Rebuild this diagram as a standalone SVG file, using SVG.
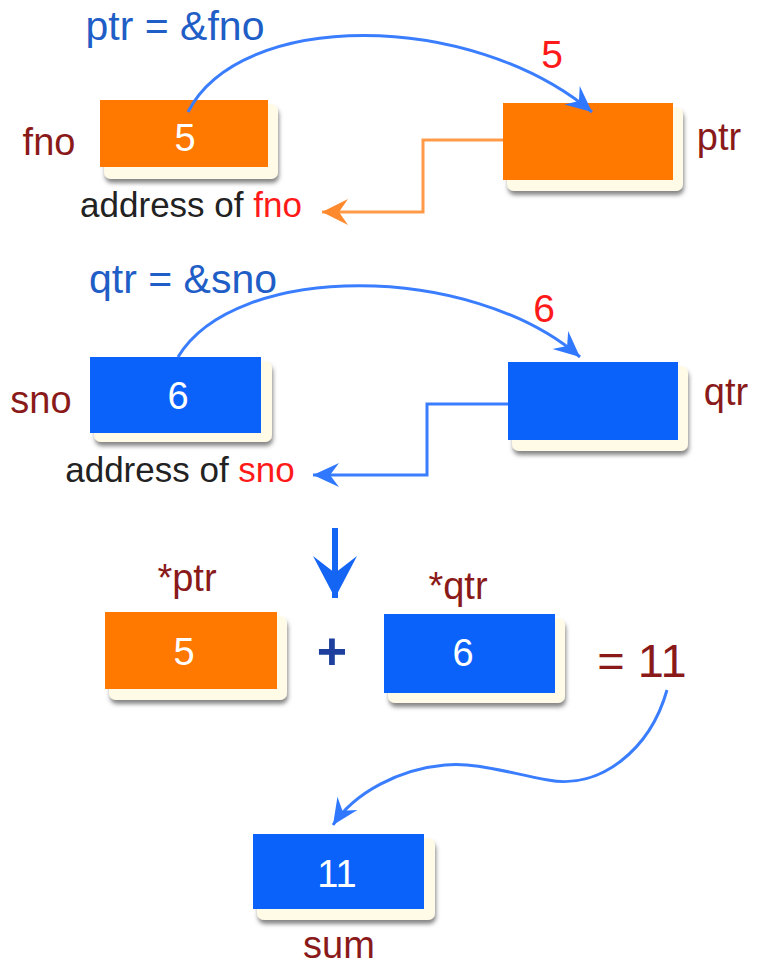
<svg xmlns="http://www.w3.org/2000/svg" width="757" height="966" viewBox="0 0 757 966">
  <defs>
    <filter id="cardShadow" x="-10%" y="-10%" width="125%" height="140%">
      <feDropShadow dx="1" dy="4" stdDeviation="2.2" flood-color="#444" flood-opacity="0.65"/>
    </filter>
    <marker id="arrowBlue" viewBox="-28 -15 30 30" markerWidth="30" markerHeight="30" refX="0" refY="0" orient="auto" markerUnits="userSpaceOnUse">
      <path d="M0,0 L-26,-12 L-17,0 L-26,12 Z" fill="#2f78ff"/>
    </marker>
    <marker id="arrowOrange" viewBox="-28 -15 30 30" markerWidth="30" markerHeight="30" refX="0" refY="0" orient="auto" markerUnits="userSpaceOnUse">
      <path d="M0,0 L-26,-13 L-17,0 L-26,13 Z" fill="#ff8a2e"/>
    </marker>
    <marker id="arrowDown" viewBox="-46 -25 48 50" markerWidth="48" markerHeight="50" refX="0" refY="0" orient="auto" markerUnits="userSpaceOnUse">
      <path d="M0,0 L-42,-22 L-25,0 L-42,22 Z" fill="#1565f5"/>
    </marker>
  </defs>
  <style>
    text { font-family: "Liberation Sans", Arial, sans-serif; }
    .card { fill: #fffbe6; filter: url(#cardShadow); }
    .orange { fill: #ff7800; }
    .blue { fill: #0a62fb; }
    .val { fill: #ffffff; font-size: 38px; text-anchor: middle; }
    .name { fill: #8a1a1a; font-size: 38px; text-anchor: middle; }
    .title { fill: #1f5ec6; font-size: 41px; text-anchor: middle; }
    .addr { fill: #222222; font-size: 35px; text-anchor: middle; }
    .addr tspan.hl { fill: #ff1a1a; }
    .num { fill: #ff1a1a; font-size: 39px; text-anchor: middle; }
    .link { fill: none; stroke: #3a7eff; stroke-width: 3; }
    .olink { fill: none; stroke: #ff9a48; stroke-width: 3; }
  </style>

  <rect width="757" height="966" fill="#ffffff"/>

  <!-- labels -->
  <text class="title" x="175" y="40">ptr = &amp;fno</text>
  <text class="num" x="552" y="68">5</text>
  <text class="addr" x="191" y="217">address of <tspan class="hl">fno</tspan></text>
  <text class="title" x="183" y="293">qtr = &amp;sno</text>
  <text class="num" x="544" y="322">6</text>
  <text class="addr" x="180" y="482">address of <tspan class="hl">sno</tspan></text>
  <text x="332" y="669" font-size="52" font-weight="bold" fill="#1e3f9e" text-anchor="middle">+</text>
  <text class="name" x="642" y="677" style="font-size:47px">= 11</text>

  <!-- nodes -->
  <g id="fno">
    <rect class="card" x="104" y="104" width="174" height="75" rx="7"/>
    <rect class="orange" x="100" y="100" width="168" height="67"/>
    <text class="val" x="185" y="151">5</text>
    <text class="name" x="49" y="155">fno</text>
  </g>
  <g id="ptr">
    <rect class="card" x="507" y="107" width="176" height="84" rx="7"/>
    <rect class="orange" x="503" y="103" width="170" height="77"/>
    <text class="name" x="719" y="150">ptr</text>
  </g>
  <g id="sno">
    <rect class="card" x="94" y="361" width="178" height="81" rx="7"/>
    <rect class="blue" x="90" y="357" width="171" height="76"/>
    <text class="val" x="178" y="409">6</text>
    <text class="name" x="41" y="413">sno</text>
  </g>
  <g id="qtr">
    <rect class="card" x="512" y="366" width="176" height="85" rx="7"/>
    <rect class="blue" x="508" y="362" width="170" height="78"/>
    <text class="name" x="726" y="405">qtr</text>
  </g>
  <g id="deref-ptr">
    <rect class="card" x="109" y="616" width="178" height="84" rx="7"/>
    <rect class="orange" x="105" y="612" width="172" height="77"/>
    <text class="val" x="184" y="665">5</text>
    <text class="name" x="187" y="591">*ptr</text>
  </g>
  <g id="deref-qtr">
    <rect class="card" x="388" y="618" width="177" height="85" rx="7"/>
    <rect class="blue" x="384" y="614" width="171" height="79"/>
    <text class="val" x="463" y="666">6</text>
    <text class="name" x="458" y="599">*qtr</text>
  </g>
  <g id="sum">
    <rect class="card" x="257" y="838" width="178" height="82" rx="7"/>
    <rect class="blue" x="253" y="834" width="171" height="75"/>
    <text class="val" x="337" y="887">11</text>
    <text class="name" x="339" y="958">sum</text>
  </g>

  <!-- connectors -->
  <g id="connectors">
    <path class="link" d="M188,112 C240,10 470,10 592,112" marker-end="url(#arrowBlue)"/>
    <path class="olink" d="M503,140 H423 V212 H322" marker-end="url(#arrowOrange)"/>
    <path class="link" d="M178,357 C235,262 470,262 580,357" marker-end="url(#arrowBlue)"/>
    <path class="link" d="M508,404 H427 V475 H313" marker-end="url(#arrowBlue)"/>
    <path d="M335,528 V598" fill="none" stroke="#1565f5" stroke-width="6" marker-end="url(#arrowDown)"/>
    <path class="link" d="M667,690 C650,750 600,790 548,780 C505,772 475,762 445,765 C400,769 355,792 333,825" marker-end="url(#arrowBlue)"/>
  </g>
</svg>
